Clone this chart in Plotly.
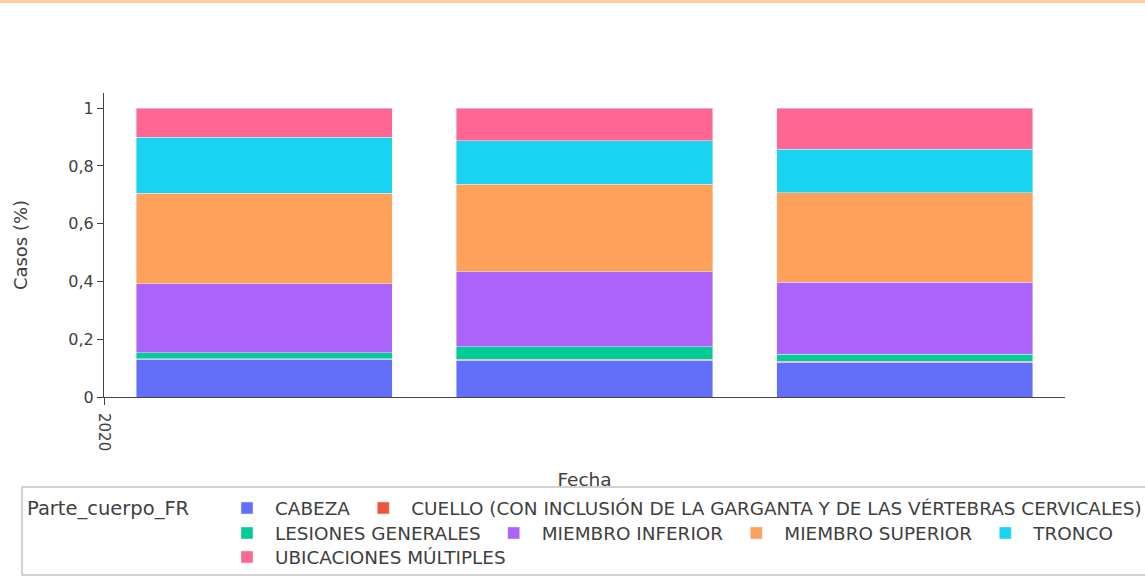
import plotly.graph_objects as go

# Share of cases per body part, one stacked bar per period
fechas = ["2020-01-16", "2020-02-15", "2020-03-16"]
partes = [
    "CABEZA",
    "CUELLO (CON INCLUSIÓN DE LA GARGANTA Y DE LAS VÉRTEBRAS CERVICALES)",
    "LESIONES GENERALES",
    "MIEMBRO INFERIOR",
    "MIEMBRO SUPERIOR",
    "TRONCO",
    "UBICACIONES MÚLTIPLES",
]
cabeza = [0.131, 0.128, 0.120]
cuello = [0.001, 0.003, 0.003]
lesiones_generales = [0.021, 0.043, 0.025]
miembro_inferior = [0.240, 0.259, 0.249]
miembro_superior = [0.313, 0.303, 0.310]
tronco = [0.194, 0.151, 0.151]
ubicaciones_multiples = [0.100, 0.113, 0.142]

series = [cabeza, cuello, lesiones_generales, miembro_inferior,
          miembro_superior, tronco, ubicaciones_multiples]
colores = ["#636efa", "#EF553B", "#00cc96", "#ab63fa",
           "#FFA15A", "#19d3f3", "#FF6692"]
# legend row each body part is listed in
filas = ["legend", "legend", "legend2", "legend2", "legend2", "legend2", "legend3"]

W, H = 1145, 577
M_L, M_R, M_T, M_B = 104, 80, 93, 180
PW, PH = W - M_L - M_R, H - M_T - M_B
FONT = "DejaVu Sans"
TXT = "#404040"


def px_x(px):
    """Horizontal pixel -> paper coordinate."""
    return (px - M_L) / PW


def px_y(py):
    """Vertical pixel (from top) -> paper coordinate."""
    return (H - M_B - py) / PH


fig = go.Figure()
for nombre, vals, col, fila in zip(partes, series, colores, filas):
    fig.add_trace(go.Bar(
        x=fechas, y=vals, name=nombre, legend=fila,
        marker=dict(color=col, line=dict(color="#E5ECF6", width=0.5)),
    ))

# thin peach band along the top edge
fig.add_shape(type="rect", xref="paper", yref="paper",
              x0=px_x(0), x1=px_x(W), y0=px_y(3), y1=px_y(0),
              fillcolor="#ffcba3", line=dict(width=0))
# frame around the legend block
fig.add_shape(type="rect", xref="paper", yref="paper",
              x0=px_x(22), x1=px_x(W + 10), y0=px_y(575), y1=px_y(487),
              fillcolor="rgba(0,0,0,0)", line=dict(color="#c4c4c4", width=1.5))

fig.add_annotation(text="Parte_cuerpo_FR", xref="paper", yref="paper",
                   x=px_x(25), y=px_y(508), xanchor="left", yanchor="middle",
                   showarrow=False, font=dict(size=19.5, color=TXT))

leg_common = dict(orientation="h", xanchor="left", yanchor="middle",
                  traceorder="normal", itemwidth=46,
                  bgcolor="rgba(0,0,0,0)", borderwidth=0,
                  font=dict(family=FONT, size=18.4, color=TXT))

fig.update_layout(
    template="plotly",
    width=W, height=H,
    margin=dict(l=M_L, r=M_R, t=M_T, b=M_B, autoexpand=False),
    barmode="stack",
    separators=",.",
    paper_bgcolor="white",
    plot_bgcolor="white",
    font=dict(family=FONT, size=15, color=TXT),
    xaxis=dict(
        type="date",
        range=["2020-01-01", "2020-03-31"],
        tickvals=["2020-01-01"],
        tickformat="%Y",
        tickangle=90,
        ticks="outside", ticklen=7, tickcolor="#444",
        ticklabelstandoff=5,
        showline=True, linecolor="#444", linewidth=1,
        showgrid=False, zeroline=False,
        title=dict(text="Fecha", standoff=22, font=dict(size=18.5)),
    ),
    yaxis=dict(
        range=[0, 1 / 0.95],
        dtick=0.2,
        ticks="outside", ticklen=6, tickcolor="#444",
        tickfont=dict(size=16),
        showline=True, linecolor="#444", linewidth=1,
        showgrid=False, zeroline=False,
        title=dict(text="Casos (%)", standoff=36),
    ),
    legend=dict(x=px_x(219), y=px_y(508), **leg_common),
    legend2=dict(x=px_x(219), y=px_y(533), **leg_common),
    legend3=dict(x=px_x(219), y=px_y(557), **leg_common),
)

fig.write_html("out.html")
